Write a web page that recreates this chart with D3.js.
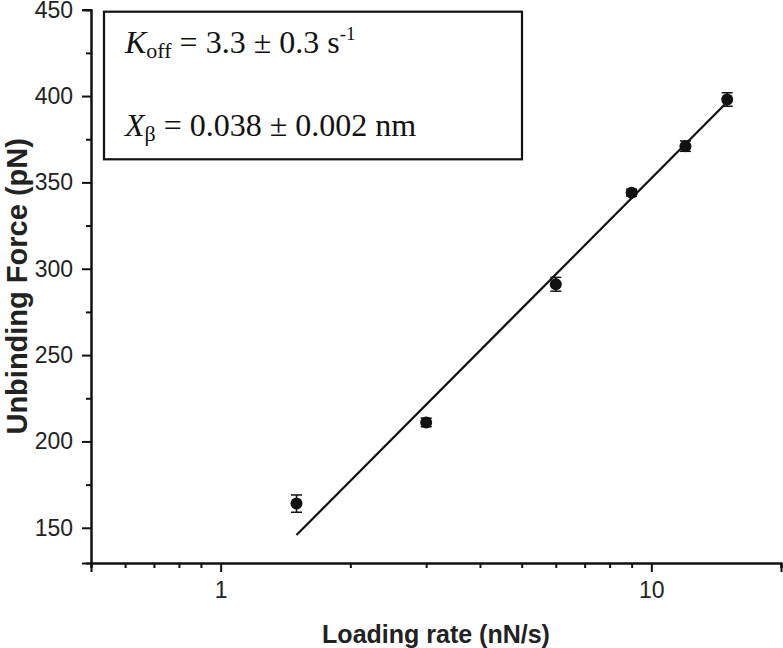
<!DOCTYPE html>
<html>
<head>
<meta charset="utf-8">
<script src="https://cdn.jsdelivr.net/npm/d3@7"></script>
<style>
  html, body { margin: 0; padding: 0; background: #fff; }
  svg { display: block; }
</style>
</head>
<body>
<svg id="chart" width="783" height="648"></svg>
<script>
// ---- data ----
const loadingRate = [1.5, 3, 6, 9, 12, 15];           // nN/s
const unbindingForce = [164, 211, 291, 344, 371, 398]; // pN
const forceError = [5, 2.5, 4, 2, 3, 3.9];           // pN
const fitRate = [1.5, 15];
const fitForce = [145.8, 396.5];
const xMajorTicks = [1, 10];
const xMinorTicks = [0.5, 0.6, 0.7, 0.8, 0.9, 2, 3, 4, 5, 6, 7, 8, 9, 20];
const yMajorTicks = [150, 200, 250, 300, 350, 400, 450];
const yMinorTicks = [175, 225, 275, 325, 375, 425];
const xLabel = "Loading rate (nN/s)";
const yLabel = "Unbinding Force (pN)";

// ---- layout ----
const svg = d3.select("#chart");
const x = d3.scaleLog().domain([0.5, 20]).range([91, 781]);
const y = d3.scaleLinear().domain([129.6, 450]).range([563, 9.7]);
const sans = "'Liberation Sans', Arial, sans-serif";
const serif = "'Liberation Serif', 'Times New Roman', serif";

// axes
const gx = svg.append("g").attr("transform", `translate(0,${y.range()[0]})`);
gx.call(d3.axisBottom(x).tickValues(xMajorTicks).tickFormat(d3.format("d")).tickSize(9).tickPadding(10));
gx.append("g").call(d3.axisBottom(x).tickValues(xMinorTicks).tickFormat("").tickSize(5));
const gy = svg.append("g").attr("transform", `translate(${x.range()[0]},0)`);
gy.call(d3.axisLeft(y).tickValues(yMajorTicks).tickSize(9).tickPadding(9));
gy.append("g").call(d3.axisLeft(y).tickValues(yMinorTicks).tickFormat("").tickSize(5));

svg.selectAll(".domain").attr("stroke", "#111").attr("stroke-width", 2);
svg.selectAll(".tick line").attr("stroke", "#111").attr("stroke-width", 2);
svg.selectAll(".tick text").attr("font-family", sans).attr("font-size", 23).attr("fill", "#222");

// axis labels
svg.append("text")
  .attr("x", (x.range()[0] + x.range()[1]) / 2).attr("y", 643)
  .attr("text-anchor", "middle").attr("font-family", sans).attr("font-weight", "bold")
  .attr("font-size", 25).attr("fill", "#222").text(xLabel);
svg.append("text")
  .attr("transform", `translate(27,${(y.range()[0] + y.range()[1]) / 2}) rotate(-90)`)
  .attr("text-anchor", "middle").attr("font-family", sans).attr("font-weight", "bold")
  .attr("font-size", 29).attr("fill", "#222").text(yLabel);

// fit line
svg.append("path")
  .datum(fitRate.map((r, i) => [r, fitForce[i]]))
  .attr("fill", "none").attr("stroke", "#111").attr("stroke-width", 2.2)
  .attr("d", d3.line().x(d => x(d[0])).y(d => y(d[1])));

// error bars
const pts = loadingRate.map((r, i) => ({ r, f: unbindingForce[i], e: forceError[i] }));
const eb = svg.append("g").attr("stroke", "#111").attr("stroke-width", 1.5);
eb.selectAll(".v").data(pts).join("line")
  .attr("x1", d => x(d.r)).attr("x2", d => x(d.r))
  .attr("y1", d => y(d.f - d.e)).attr("y2", d => y(d.f + d.e));
eb.selectAll(".t").data(pts).join("line")
  .attr("x1", d => x(d.r) - 5.5).attr("x2", d => x(d.r) + 5.5)
  .attr("y1", d => y(d.f + d.e)).attr("y2", d => y(d.f + d.e));
eb.selectAll(".b").data(pts).join("line")
  .attr("x1", d => x(d.r) - 5.5).attr("x2", d => x(d.r) + 5.5)
  .attr("y1", d => y(d.f - d.e)).attr("y2", d => y(d.f - d.e));

// points
svg.append("g").selectAll("circle").data(pts).join("circle")
  .attr("cx", d => x(d.r)).attr("cy", d => y(d.f)).attr("r", 6).attr("fill", "#111");

// annotation box
svg.append("rect").attr("x", 104).attr("y", 11.7).attr("width", 418).attr("height", 147.6)
  .attr("fill", "none").attr("stroke", "#111").attr("stroke-width", 2.2);

const t1 = svg.append("text").attr("x", 125).attr("y", 53).attr("font-family", serif)
  .attr("font-size", 32).attr("fill", "#111");
t1.append("tspan").attr("font-style", "italic").text("K");
t1.append("tspan").attr("font-size", 22).attr("dy", 5).text("off");
t1.append("tspan").attr("dy", -5).text(" = 3.3 \u00b1 0.3 s");
t1.append("tspan").attr("font-size", 19).attr("dy", -13).text("-1");

const t2 = svg.append("text").attr("x", 125).attr("y", 136).attr("font-family", serif)
  .attr("font-size", 32).attr("fill", "#111");
t2.append("tspan").attr("font-style", "italic").text("X");
t2.append("tspan").attr("font-size", 22).attr("dy", 5).text("\u03b2");
t2.append("tspan").attr("dy", -5).text(" = 0.038 \u00b1 0.002 nm");
</script>
</body>
</html>
